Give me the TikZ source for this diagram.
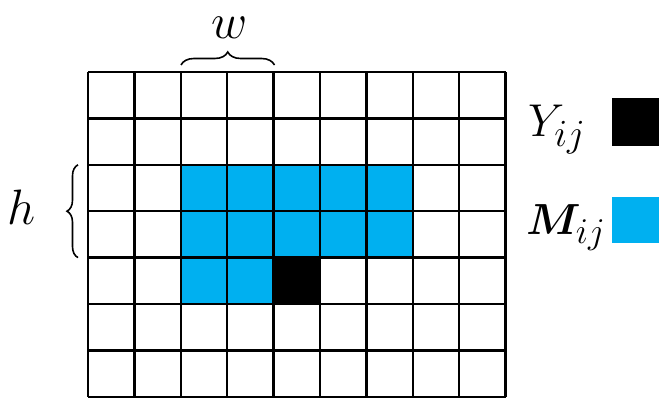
\documentclass[tikz,border=0pt]{standalone}
\usepackage{amsmath,bm,graphicx}
\usetikzlibrary{decorations.pathreplacing}
\definecolor{cellblue}{RGB}{0,176,240}
\newcommand{\bigmath}[2][1.85]{\scalebox{#1}{\Huge$#2$}}
\tikzset{
  gridline/.style={line width=2.4pt, black},
  bracestyle/.style={decorate, line width=1.6pt},
  lbl/.style={inner sep=0pt, anchor=base}
}
\begin{document}
\begin{tikzpicture}[x=1pt,y=1pt]
\useasboundingbox (0,0) rectangle (659,397);
\def\cs{46.4}
% fills
\foreach \r/\c/\col in {2/2/cellblue,2/3/cellblue,2/4/cellblue,2/5/cellblue,2/6/cellblue,
                       3/2/cellblue,3/3/cellblue,3/4/cellblue,3/5/cellblue,3/6/cellblue,
                       4/2/cellblue,4/3/cellblue,4/4/black}{
  \fill[\col] ({88+\c*\cs},{325-\r*\cs}) rectangle ({88+(\c+1)*\cs},{325-(\r+1)*\cs});
}
% grid
\foreach \c in {0,...,9}{
  \draw[gridline] ({88+\c*\cs},0.2) -- ({88+\c*\cs},325);
}
\foreach \r in {0,...,7}{
  \draw[gridline] (88,{325-\r*\cs}) -- ({88+9*\cs},{325-\r*\cs});
}
% braces
\coordinate (wa) at (181,332);
\coordinate (wb) at (274.5,332);
\draw[bracestyle, decoration={brace, amplitude=13pt}] (wa) -- (wb);
\coordinate (ha) at (78,139.4);
\coordinate (hb) at (78,232.2);
\draw[bracestyle, decoration={brace, amplitude=11pt}] (ha) -- (hb);
% labels
\node[lbl] (w) at (230,358) {\bigmath[2]{w}};
\node[lbl] (h) at (22,172) {\bigmath[2]{h}};
\node[lbl, anchor=base west] (Y) at (528,260) {\bigmath{Y_{ij}}};
\node[lbl, anchor=base west] (M) at (526,162) {\bigmath[1.75]{\bm{M}_{ij}}};
% legend squares
\fill[black] (611.7,251.3) rectangle (670,298.7);
\fill[cellblue] (611.7,153.7) rectangle (670,200.3);
\end{tikzpicture}
\end{document}
